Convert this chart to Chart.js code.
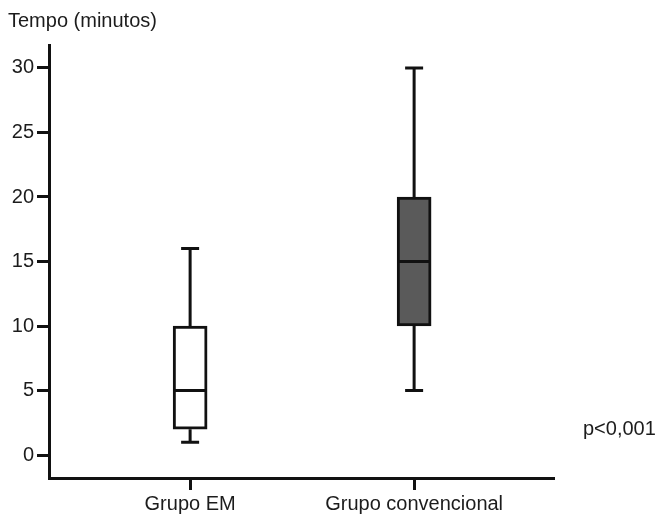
<!DOCTYPE html>
<html>
<head>
<meta charset="utf-8">
<script src="https://cdn.jsdelivr.net/npm/chart.js@4.4.1/dist/chart.umd.min.js"></script>
<style>
  body { margin: 0; background: #fff; }
  #wrap { width: 659px; height: 518px; }
</style>
</head>
<body>
<div id="wrap"><canvas id="boxes" width="659" height="518"></canvas></div>
<script>
// box plot values
const groups = ["Grupo EM", "Grupo convencional"];
const mins = [1, 5];
const q1s = [2, 10];
const medians = [5, 15];
const q3s = [10, 20];
const maxs = [16, 30];
const boxColors = ["#ffffff", "#5a5a5a"];
const yTicks = [0, 5, 10, 15, 20, 25, 30];

const ink = "#111111";
const textColor = "#1c1c1c";
const fontFamily = "'Liberation Sans', Arial, sans-serif";

// whiskers, caps, medians and the two free texts
const boxExtras = {
    id: "boxExtras",
    afterDatasetsDraw(chart) {
        const ctx = chart.ctx;
        const x = chart.scales.x;
        const y = chart.scales.y;
        ctx.save();
        ctx.strokeStyle = ink;
        ctx.lineWidth = 3;
        ctx.lineCap = "butt";
        groups.forEach((g, i) => {
            const cx = x.getPixelForValue(i);
            const half = 16;
            const cap = 9;
            ctx.beginPath();
            // upper whisker
            ctx.moveTo(cx, y.getPixelForValue(q3s[i]));
            ctx.lineTo(cx, y.getPixelForValue(maxs[i]));
            ctx.moveTo(cx - cap, y.getPixelForValue(maxs[i]));
            ctx.lineTo(cx + cap, y.getPixelForValue(maxs[i]));
            // lower whisker
            ctx.moveTo(cx, y.getPixelForValue(q1s[i]));
            ctx.lineTo(cx, y.getPixelForValue(mins[i]));
            ctx.moveTo(cx - cap, y.getPixelForValue(mins[i]));
            ctx.lineTo(cx + cap, y.getPixelForValue(mins[i]));
            // median
            ctx.moveTo(cx - half, y.getPixelForValue(medians[i]));
            ctx.lineTo(cx + half, y.getPixelForValue(medians[i]));
            ctx.stroke();
        });

        ctx.fillStyle = textColor;
        ctx.font = "20px " + fontFamily;
        ctx.textAlign = "left";
        ctx.textBaseline = "alphabetic";
        ctx.fillText("Tempo (minutos)", 8, 27);
        ctx.fillText("p<0,001", 583, 435);
        ctx.restore();
    }
};

new Chart(document.getElementById("boxes"), {
    type: "bar",
    data: {
        datasets: [{
            data: groups.map((g, i) => ({ x: i, y: [q1s[i], q3s[i]] })),
            backgroundColor: boxColors,
            borderColor: ink,
            borderWidth: 3,
            borderSkipped: false,
            barThickness: 34
        }]
    },
    options: {
        responsive: false,
        animation: false,
        events: [],
        layout: { padding: { top: 45, right: 106, left: 0, bottom: 0 } },
        plugins: {
            legend: { display: false },
            tooltip: { enabled: false }
        },
        scales: {
            x: {
                type: "linear",
                offset: false,
                min: -0.63,
                max: 1.62,
                afterBuildTicks(scale) {
                    scale.ticks = groups.map((g, i) => ({ value: i }));
                },
                afterFit(scale) { scale.height = 40; },
                ticks: {
                    callback: (v) => groups[v],
                    color: textColor,
                    font: { size: 20, family: fontFamily },
                    padding: 2,
                    maxRotation: 0,
                    autoSkip: false
                },
                grid: {
                    offset: false,
                    drawOnChartArea: false,
                    color: ink,
                    lineWidth: 3,
                    tickLength: 12,
                    tickColor: ink,
                    tickWidth: 3
                },
                border: { display: true, color: ink, width: 3 }
            },
            y: {
                min: -1.78,
                max: 31.78,
                afterBuildTicks(scale) {
                    scale.ticks = yTicks.map(v => ({ value: v }));
                },
                afterFit(scale) { scale.width = 49; },
                ticks: {
                    color: textColor,
                    font: { size: 20, family: fontFamily },
                    padding: 3
                },
                grid: {
                    drawOnChartArea: false,
                    color: ink,
                    lineWidth: 3,
                    tickLength: 12,
                    tickColor: ink,
                    tickWidth: 3
                },
                border: { display: true, color: ink, width: 3 }
            }
        }
    },
    plugins: [boxExtras]
});
</script>
</body>
</html>
